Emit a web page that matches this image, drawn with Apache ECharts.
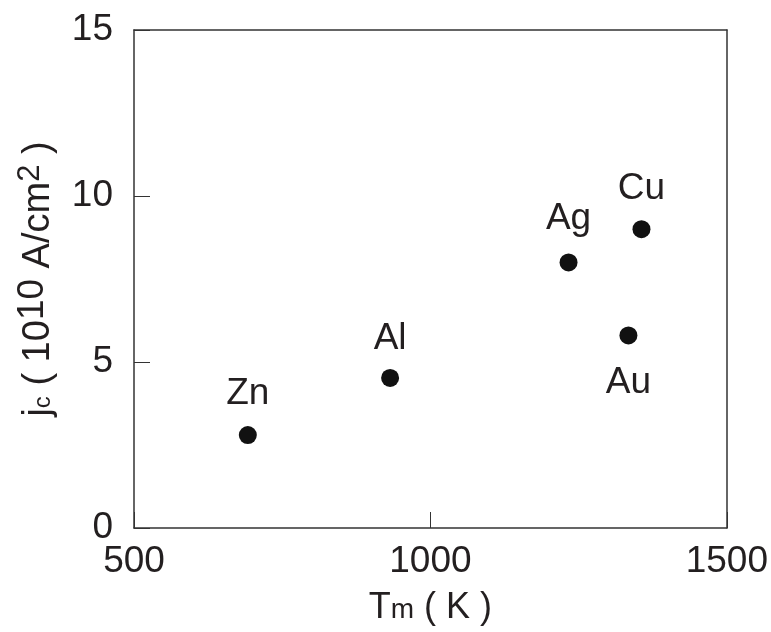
<!DOCTYPE html>
<html>
<head>
<meta charset="utf-8">
<script src="https://cdn.jsdelivr.net/npm/echarts@6/dist/echarts.min.js"></script>
<style>html,body{margin:0;padding:0;background:#fff;}#c{width:771px;height:632px;}</style>
</head>
<body>
<div id="c"></div>
<script>
var metals = ['Zn', 'Al', 'Ag', 'Cu', 'Au'];
var meltingT = [692, 932, 1233, 1356, 1334];
var jc = [2.8, 4.52, 8.0, 9.0, 5.8];
var labelSide = ['top', 'top', 'top', 'top', 'bottom'];
var labelGap = [14, 12, 16, 13, 20];
var xTicks = [500, 1000, 1500];
var yTicks = [0, 5, 10, 15];

var FONT = "'Liberation Sans', Arial, Helvetica, sans-serif";
var INK = '#231f20';

var chart = echarts.init(document.getElementById('c'), null, {renderer: 'canvas'});

var data = metals.map(function (m, i) {
  return {
    name: m,
    value: [meltingT[i], jc[i]],
    label: {position: labelSide[i], distance: labelGap[i]}
  };
});

chart.setOption({
  animation: false,
  backgroundColor: '#fff',
  grid: {left: 134, right: 43, top: 30, bottom: 104, show: false},
  xAxis: [{
    type: 'value',
    min: xTicks[0], max: xTicks[xTicks.length - 1], interval: 500,
    axisLine: {show: true, lineStyle: {color: '#333', width: 1.5}},
    axisTick: {show: true, inside: true, length: 16, lineStyle: {color: '#333', width: 1}},
    splitLine: {show: false},
    axisLabel: {color: INK, fontSize: 37, fontFamily: FONT, margin: 15,
      formatter: function (v) { return xTicks.indexOf(v) >= 0 ? String(v) : ''; }},
    name: '{t|T}{s|m}{n| ( K )}',
    nameLocation: 'middle',
    nameGap: 62,
    nameTextStyle: {
      color: INK, fontFamily: FONT,
      rich: {
        t: {fontSize: 36, fontFamily: FONT, color: INK, verticalAlign: 'bottom'},
        s: {fontSize: 28, fontFamily: FONT, color: INK, verticalAlign: 'bottom', padding: [0, 0, 2, 0]},
        n: {fontSize: 36, fontFamily: FONT, color: INK, verticalAlign: 'bottom'}
      }
    }
  }, {
    type: 'value', position: 'top', min: 500, max: 1500,
    axisLine: {show: true, onZero: false, lineStyle: {color: '#333', width: 1.5}},
    axisTick: {show: false}, axisLabel: {show: false}, splitLine: {show: false}
  }],
  yAxis: [{
    type: 'value',
    min: yTicks[0], max: yTicks[yTicks.length - 1], interval: 5,
    axisLine: {show: true, lineStyle: {color: '#333', width: 1.5}},
    axisTick: {show: true, inside: true, length: 16, lineStyle: {color: '#333', width: 1}},
    splitLine: {show: false},
    axisLabel: {color: INK, fontSize: 37, fontFamily: FONT, margin: 21},
    name: '{j|j}{s|c}{n| ( 10}{p|10}{n| A/cm}{p2|2}{n| )}',
    nameLocation: 'middle',
    nameRotate: 90,
    nameGap: 76,
    nameTextStyle: {
      color: INK, fontFamily: FONT,
      rich: {
        j: {fontSize: 38, fontFamily: FONT, color: INK, verticalAlign: 'bottom'},
        s: {fontSize: 24, fontFamily: FONT, color: INK, verticalAlign: 'bottom', padding: [0, 0, 3, 0]},
        n: {fontSize: 38, fontFamily: FONT, color: INK, verticalAlign: 'bottom'},
        p: {fontSize: 37, fontFamily: FONT, color: INK, verticalAlign: 'bottom', padding: [0, 0, 7, 0]},
        p2: {fontSize: 31, fontFamily: FONT, color: INK, verticalAlign: 'bottom', padding: [0, 0, 12, 0]}
      }
    }
  }, {
    type: 'value', position: 'right', min: 0, max: 15,
    axisLine: {show: true, onZero: false, lineStyle: {color: '#333', width: 1.5}},
    axisTick: {show: false}, axisLabel: {show: false}, splitLine: {show: false}
  }],
  series: [{
    type: 'scatter',
    symbol: 'circle',
    symbolSize: 18,
    itemStyle: {color: '#111', opacity: 1},
    label: {
      show: true,
      formatter: '{b}',
      fontSize: 37,
      fontFamily: FONT,
      color: INK
    },
    data: data
  }]
});
</script>
</body>
</html>
